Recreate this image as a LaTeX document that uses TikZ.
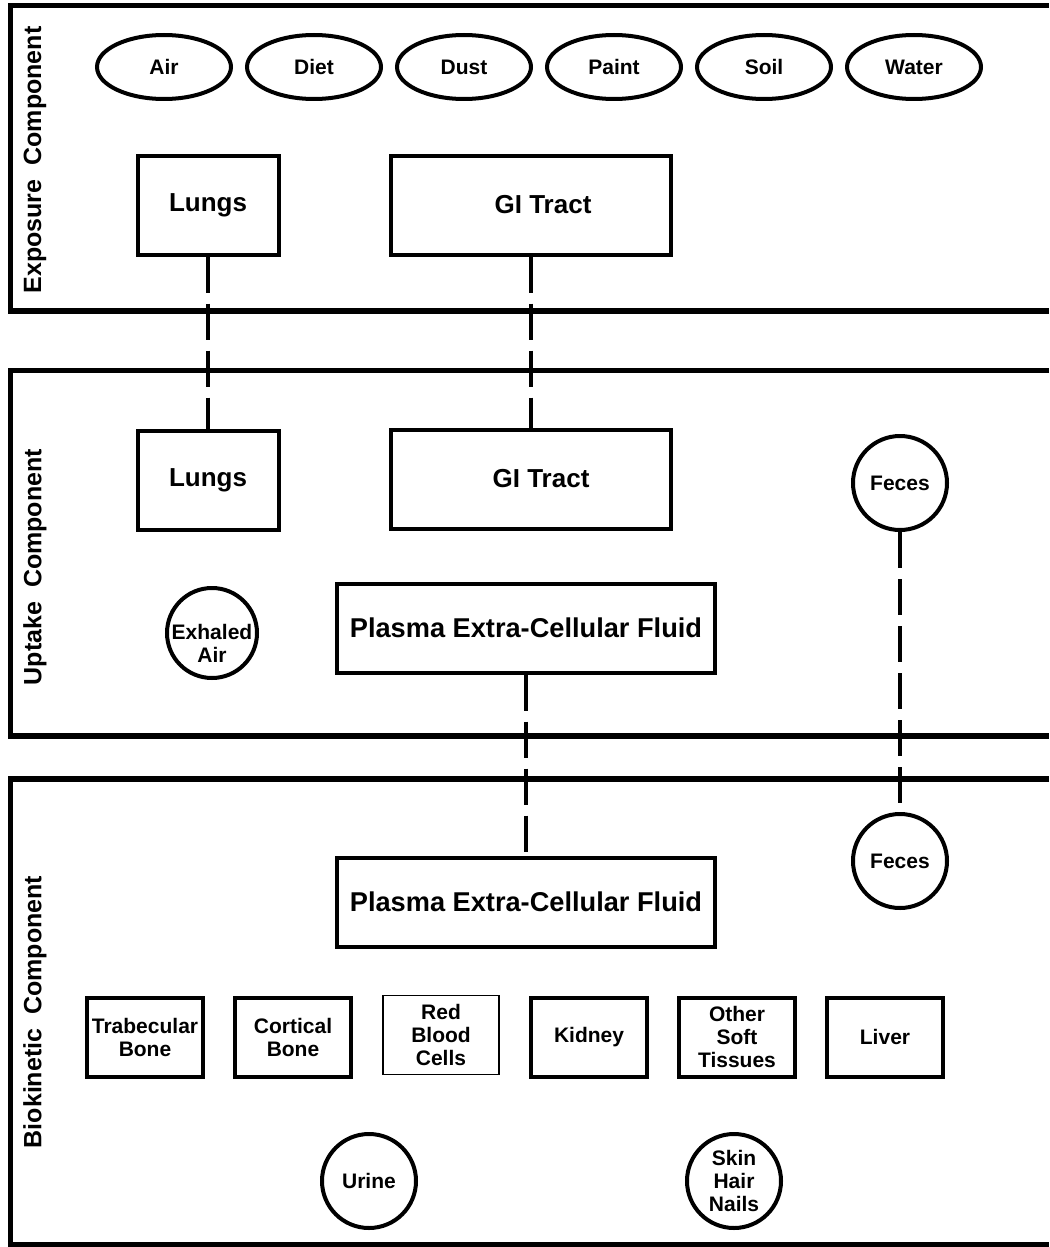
\documentclass[tikz,border=0pt]{standalone}
\usepackage{fontspec}
\setmainfont{Liberation Sans}
\usetikzlibrary{positioning,shapes.geometric}

\begin{document}
\begin{tikzpicture}[x=0.5pt, y=-0.5pt, node distance=75pt, font=\bfseries,
    panel/.style = {line width=2.6pt},
    band/.style = {rotate=90, font=\bfseries\fontsize{12.5}{14}\selectfont},
    src/.style = {draw, ellipse, line width=2pt, minimum width=67pt, minimum height=32pt, inner sep=0pt, font=\bfseries\fontsize{10.5}{11.5}\selectfont},
    organ/.style = {draw, rectangle, line width=2pt, minimum width=70.5pt, minimum height=49.5pt, font=\bfseries\fontsize{13}{15}\selectfont},
    fluid/.style = {organ, minimum width=189pt, minimum height=44.5pt, font=\bfseries\fontsize{13.6}{15}\selectfont},
    tissue/.style = {draw, rectangle, line width=2pt, minimum width=58pt, minimum height=39.5pt, inner sep=0pt, align=center, font=\bfseries\fontsize{10.5}{11.5}\selectfont},
    pool/.style = {draw, circle, line width=2pt, minimum size=47pt, inner sep=0pt, align=center, font=\bfseries\fontsize{10.5}{11.5}\selectfont},
    link/.style = {line width=2pt, dash pattern=on 18pt off 5.5pt}]
    \useasboundingbox (0,0) rectangle (1049,1247);
    % panels
    \draw[panel] (1049,5.5) -- (10.5,5.5) -- (10.5,311) -- (1049,311);
    \draw[panel] (1049,370.5) -- (10.5,370.5) -- (10.5,736) -- (1049,736);
    \draw[panel] (1049,779) -- (10.5,779) -- (10.5,1245) -- (1049,1245);
    \node[band] (exposure) at (35,160) {Exposure\ \ Component};
    \node[band] (uptake) at (35,567) {Uptake\ \ Component};
    \node[band] (biokinetic) at (35,1012) {Biokinetic\ \ Component};
    % exposure
    \node[src] (air) at (164,67) {Air};
    \node[src] (diet) [right of=air] {Diet};
    \node[src] (dust) [right of=diet] {Dust};
    \node[src] (paint) [right of=dust] {Paint};
    \node[src] (soil) [right of=paint] {Soil};
    \node[src] (water) [right of=soil] {Water};
    \node[organ] (lungs) at (208,205) {Lungs};
    \node[organ, minimum width=140pt] (gi) at (531,205) {\hspace*{12pt}GI Tract};
    % uptake
    \node[organ] (lungs2) at (208,480) {Lungs};
    \node[organ, minimum width=140pt] (gi2) at (531,479) {\hspace*{10pt}GI Tract};
    \node[pool] (feces) at (900,483) {Feces};
    \node[pool, minimum size=45pt, label={[pool, draw=none, yshift=-5pt]center:{Exhaled\\Air}}] (exhaled) at (212,633) {};
    \node[fluid] (plasma) at (526,628) {Plasma Extra-Cellular Fluid};
    % biokinetic
    \node[fluid] (plasma2) at (526,902) {Plasma Extra-Cellular Fluid};
    \node[pool] (feces2) at (900,861) {Feces};
    \begin{scope}[node distance=74pt]
    \node[tissue] (trab) at (145,1037) {Trabecular\\Bone};
    \node[tissue] (cort) [right of=trab] {Cortical\\Bone};
    \node[tissue, line width=0.8pt, yshift=1pt] (rbc) [right of=cort] {Red\\Blood\\Cells};
    \node[tissue] (kidney) [right of=rbc, yshift=-1pt] {Kidney};
    \node[tissue] (soft) [right of=kidney] {Other\\Soft\\Tissues};
    \node[tissue] (liver) [right of=soft] {Liver};
    \end{scope}
    \node[pool] (urine) at (369,1181) {Urine};
    \node[pool] (skin) at (734,1181) {Skin\\Hair\\Nails};
    % links
    \draw[link] (lungs) -- (lungs2);
    \draw[link] (gi) -- (gi2);
    \draw[link] (plasma) -- (plasma2);
    \draw[link] (feces) -- (feces2);
\end{tikzpicture}
\end{document}
